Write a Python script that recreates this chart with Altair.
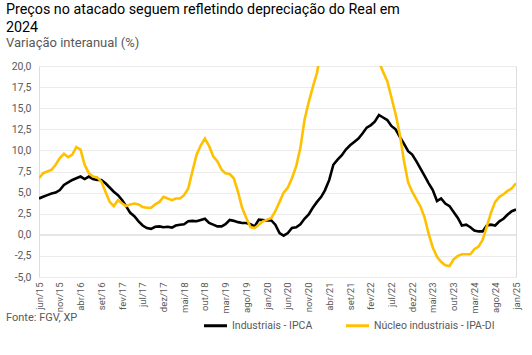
import altair as alt
import pandas as pd

start_month = "2015-06-01"
end_month = "2025-01-01"

industriais_ipca = [
    4.3, 4.5, 4.7, 4.9, 5.0, 5.3, 5.9, 6.2, 6.5, 6.7,
    6.9, 6.6, 6.9, 6.6, 6.5, 6.5, 6.1, 5.6, 5.1, 4.7,
    4.1, 3.4, 2.6, 2.2, 1.6, 1.1, 0.8, 0.7, 0.95, 1.0,
    0.9, 0.95, 0.85, 1.1, 1.2, 1.25, 1.6, 1.65, 1.6, 1.75,
    1.9, 1.4, 1.2, 1.0, 1.0, 1.25, 1.75, 1.65, 1.5, 1.4,
    1.4, 1.25, 1.0, 1.8, 1.75, 1.7, 1.7, 1.2, 0.2, -0.1,
    0.2, 0.8, 0.9, 1.25, 1.9, 2.4, 3.2, 3.9, 4.5, 5.3,
    6.5, 8.3, 8.9, 9.4, 10.1, 10.6, 11.0, 11.4, 12.0, 12.7,
    13.0, 13.4, 14.2, 13.9, 13.6, 12.9, 12.5, 11.6, 10.8, 9.9,
    9.5, 8.7, 7.8, 7.0, 6.1, 5.3, 4.0, 4.3, 3.7, 3.4,
    2.7, 2.0, 1.1, 1.2, 0.9, 0.5, 0.4, 0.4, 1.1, 1.2,
    1.1, 1.6, 1.9, 2.4, 2.8, 3.0,
]

nucleo_ipa_di = [
    6.7, 7.3, 7.5, 7.7, 8.3, 9.1, 9.6, 9.2, 9.5, 10.4,
    10.1, 8.3, 7.3, 6.9, 6.8, 6.3, 5.1, 3.9, 3.4, 4.1,
    3.7, 3.4, 3.6, 3.7, 3.6, 3.3, 3.2, 3.2, 3.6, 3.9,
    4.5, 4.3, 4.1, 4.3, 4.3, 4.7, 5.5, 7.5, 9.5, 10.6,
    11.4, 10.5, 9.3, 8.7, 7.7, 7.3, 7.2, 6.7, 5.1, 3.2,
    2.0, 0.9, 0.8, 1.2, 1.6, 1.8, 2.0, 2.8, 3.9, 5.0,
    5.6, 6.7, 8.1, 10.3, 13.6, 15.7, 17.5, 19.2, 22.0, 24.5,
    27.0, 29.0, 30.5, 31.5, 32.0, 32.0, 31.5, 30.0, 28.0, 26.0,
    24.0, 22.0, 20.5, 19.3, 18.2, 16.3, 14.3, 11.9, 8.8, 6.2,
    5.1, 4.2, 3.3, 2.1, 0.1, -1.5, -2.6, -3.2, -3.6, -3.7,
    -2.9, -2.5, -2.3, -2.3, -2.3, -1.7, -1.4, -0.6, 1.0, 2.6,
    3.9, 4.5, 4.8, 5.2, 5.5, 6.1,
]

series_names = ["Industriais - IPCA", "Núcleo industriais - IPA-DI"]
series_colors = ["#000000", "#FFC000"]
month_abbr = ["jan", "fev", "mar", "abr", "mai", "jun", "jul", "ago", "set", "out", "nov", "dez"]
y_ticks = [-5, -2.5, 0, 2.5, 5, 7.5, 10, 12.5, 15, 17.5, 20]
source_text = ["Fonte: FGV, XP"]
title_lines = ["Preços no atacado seguem refletindo depreciação do Real em", "2024"]
subtitle_text = "Variação interanual (%)"

months = pd.date_range(start_month, end_month, freq="MS")
df = pd.concat([
    pd.DataFrame({"mes": months, "valor": industriais_ipca, "serie": series_names[0], "ordem": 0}),
    pd.DataFrame({"mes": months, "valor": nucleo_ipa_di, "serie": series_names[1], "ordem": 1}),
])
df["mes"] = df["mes"].dt.strftime("%Y-%m-%dT00:00:00")

tick_dates = [d.strftime("%Y-%m-%dT00:00:00") for d in months[::5]]

abbr_js = "[" + ",".join(f"'{m}'" for m in month_abbr) + "]"
x_label_expr = abbr_js + "[month(datum.value)] + '/' + timeFormat(datum.value, '%y')"
y_label_expr = "replace(replace(format(datum.value, '.1f'), '.', ','), '\u2212', '-')"

FONT = "Roboto"
GRAY = "#595959"

y_scale = alt.Scale(domain=[-5, 20], nice=False)
y_axis = alt.Axis(
    values=y_ticks, labelExpr=y_label_expr, ticks=False, domain=False,
    labelOverlap=False, labelBound=False, labelFlush=False,
    gridColor="#ebebeb", gridWidth=1, labelPadding=8, title=None,
    labelFont=FONT, labelFontSize=10.5, labelColor=GRAY,
)

base = alt.Chart(df)

lines = base.mark_line(strokeWidth=2.6, clip=True).encode(
    x=alt.X(
        "mes:T",
        scale=alt.Scale(domain=[tick_dates[0], tick_dates[-1]], nice=False),
        axis=alt.Axis(
            values=tick_dates, labelExpr=x_label_expr, labelAngle=270,
            labelAlign="right", labelBaseline="middle", labelPadding=5,
            labelOverlap=False, labelBound=False, labelFlush=False,
            ticks=False, domain=False, grid=False, title=None,
            labelFont=FONT, labelFontSize=9.5, labelColor=GRAY,
        ),
    ),
    y=alt.Y("valor:Q", scale=y_scale, axis=y_axis),
    color=alt.Color(
        "serie:N",
        scale=alt.Scale(domain=series_names, range=series_colors),
        legend=alt.Legend(
            orient="none", legendX=163, legendY=246, direction="horizontal",
            title=None, symbolType="stroke", symbolStrokeWidth=3, symbolSize=530,
            labelFont=FONT, labelFontSize=10.5, labelColor=GRAY, columnPadding=26,
            labelOffset=3,
        ),
    ),
    order="ordem:Q",
    detail="serie:N",
)

zero = alt.Chart(pd.DataFrame({"z": [0]})).mark_rule(color="#d9d9d9", strokeWidth=1).encode(
    y=alt.Y("z:Q", scale=y_scale, axis=y_axis)
)

source = alt.Chart(pd.DataFrame({"t": source_text})).mark_text(
    align="left", baseline="middle", font=FONT, fontSize=11, color=GRAY
).encode(x=alt.value(-33), y=alt.value(252), text="t:N")

chart = alt.layer(zero, lines, source).properties(
    width=477,
    height=211,
    autosize=alt.AutoSizeParams(type="none"),
    padding={"left": 39, "top": 66, "right": 16, "bottom": 78},
    title=alt.TitleParams(
        text=title_lines, subtitle=subtitle_text, anchor="start", frame="group",
        dx=-33, offset=11, font=FONT, fontSize=14.3, fontWeight="normal", color="#000000",
        lineHeight=18, subtitleFont=FONT, subtitleFontSize=13, subtitleColor=GRAY,
        subtitlePadding=2,
    ),
).configure_view(stroke=None).configure(background="white")

chart.save("out.html", embed_options={"renderer": "svg", "actions": False})
